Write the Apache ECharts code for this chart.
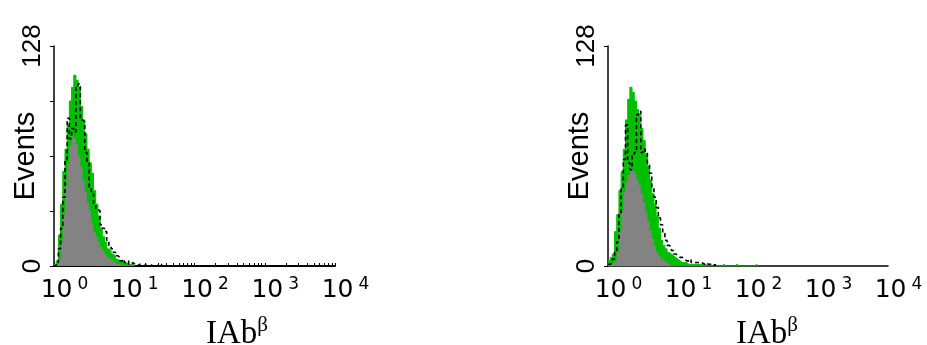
<!DOCTYPE html>
<html>
<head>
<meta charset="utf-8">
<script src="https://cdn.jsdelivr.net/npm/echarts@6/dist/echarts.min.js"></script>
<style>
  html, body { margin: 0; padding: 0; background: #fff; }
  #chart { width: 927px; height: 345px; }
</style>
</head>
<body>
<div id="chart"></div>
<script>
// Histogram channels: 32 bins per decade, 4 decades (10^0 .. 10^4)
const BINS_PER_DECADE = 32;
const DECADES = 4;
const decadeExponents = ['0', '1', '2', '3', '4'];
const yMax = 128;
const yTickValues = [0, 32, 64, 96, 128];
const yLabelValues = [0, 128];

// Left panel counts per bin
const leftGreen = [1,3,18,36,55,68,82,96,104,111,108,104,93,85,77,68,60,54,44,36,29,22,17,14,10,9,7,6,4,3,3,2,2,1,1,1,0];
const leftGray  = [0,1,4,14,30,47,60,70,76,74,71,64,58,50,43,37,32,25,20,17,14,11,9,7,5,4,3,2,1,1,0];
const leftBlack = [0,2,10,22,40,62,86,74,80,78,104,106,85,84,66,60,46,42,36,33,32,24,22,20,15,12,10,8,6,5,3,4,2,3,1,2,1,0,1,1,0,1,0,0,1,0,0,1,1];

// Right panel counts per bin
const rightGreen = [3,5,7,20,30,44,55,68,85,97,104,101,96,91,88,80,73,65,58,50,42,36,29,22,15,12,10,8,7,6,5,4,3,2,2,2,1,1,1,1,1,1,1,0,1,0,0,0,1,0,0,0,1,0,0,0,0,0,1,0,0,0,0,0,0,0,0,1];
const rightGray  = [0,1,2,3,8,20,32,43,49,53,56,56,54,50,47,42,37,31,26,21,16,12,8,6,4,3,2,1,1];
const rightBlack = [1,2,4,8,14,30,45,62,82,60,56,64,66,88,90,66,68,66,60,54,46,40,34,28,24,19,15,12,11,9,7,6,5,5,4,3,3,4,2,2,2,2,2,1,2,1,1,0,1];

const axisTitle = '{a|IAb}{b|β}';
const yName = 'Events';

// bin counts -> step points in decade units (left edges + closing edge)
function steps(counts) {
  const pts = counts.map((v, i) => [i / BINS_PER_DECADE, v]);
  pts.push([counts.length / BINS_PER_DECADE, 0]);
  return pts;
}

// log-decade minor tick positions (1..9 within each decade)
const minorTicks = [];
for (let d = 0; d < DECADES; d++) {
  for (let k = 1; k <= 9; k++) minorTicks.push(d + Math.log10(k));
}
minorTicks.push(DECADES);

const GREEN = '#00bf00';
const GRAY = '#838383';

function xAxisFor(gridIndex, withMinor) {
  return {
    type: 'value', gridIndex, min: 0, max: DECADES, interval: 1,
    axisLine: { show: true, lineStyle: { color: '#000', width: withMinor ? 2 : 1.5 } },
    axisTick: withMinor
      ? { show: true, inside: true, length: 3, customValues: minorTicks, lineStyle: { color: '#000', width: 1 } }
      : { show: false },
    splitLine: { show: false },
    axisLabel: {
      margin: 10, showMinLabel: true, showMaxLabel: true, hideOverlap: false,
      formatter: v => '{b|10}{e|' + decadeExponents[Math.round(v)] + '}',
      rich: {
        b: { fontFamily: 'DejaVu Sans', fontSize: 25, color: '#000', lineHeight: 27, verticalAlign: 'bottom', padding: [0, 0, 0, 21] },
        e: { fontFamily: 'DejaVu Sans', fontSize: 17, color: '#000', lineHeight: 27, verticalAlign: 'top', padding: [0, 0, 0, 5] }
      }
    }
  };
}

function yAxisFor(gridIndex, ticks) {
  return {
    type: 'value', gridIndex, min: 0, max: yMax,
    axisLine: { show: true, lineStyle: { color: '#000', width: 1.5 } },
    axisTick: { show: true, length: 4, customValues: ticks, lineStyle: { color: '#000', width: 1 } },
    splitLine: { show: false },
    axisLabel: {
      customValues: yLabelValues, rotate: 90, margin: 8, showMinLabel: true, showMaxLabel: true,
      fontFamily: 'Liberation Sans', fontSize: 26, color: '#000'
    },
    name: yName, nameLocation: 'middle', nameRotate: 90, nameGap: 14, nameMoveOverlap: false,
    nameTextStyle: { fontFamily: 'Liberation Sans', fontSize: 29, color: '#000' }
  };
}

function histSeries(idx, green, gray, black) {
  return [
    { type: 'line', xAxisIndex: idx, yAxisIndex: idx, step: 'end', data: steps(green), symbol: 'none',
      lineStyle: { color: GREEN, width: 1 }, areaStyle: { color: GREEN, opacity: 1 }, z: 2, silent: true },
    { type: 'line', xAxisIndex: idx, yAxisIndex: idx, step: 'end', data: steps(gray), symbol: 'none',
      lineStyle: { width: 0 }, areaStyle: { color: GRAY, opacity: 1 }, z: 3, silent: true },
    { type: 'line', xAxisIndex: idx, yAxisIndex: idx, step: 'end', data: steps(black), symbol: 'none',
      lineStyle: { color: '#000', width: 1.6, type: [4, 3] }, z: 4, silent: true }
  ];
}

const titleRich = {
  a: { fontFamily: 'Liberation Serif', fontSize: 33, fontWeight: 'normal', color: '#000', lineHeight: 36, verticalAlign: 'bottom' },
  b: { fontFamily: 'Liberation Serif', fontSize: 21, fontWeight: 'normal', color: '#000', lineHeight: 36, verticalAlign: 'top' }
};

const chart = echarts.init(document.getElementById('chart'), null, { renderer: 'canvas' });
chart.setOption({
  animation: false,
  backgroundColor: '#fff',
  title: [
    { text: axisTitle, left: 201, top: 310, textStyle: { fontWeight: 'normal', rich: titleRich } },
    { text: axisTitle, left: 731, top: 310, textStyle: { fontWeight: 'normal', rich: titleRich } }
  ],
  grid: [
    { left: 54, top: 46, width: 281, height: 220, containLabel: false, outerBoundsMode: 'none' },
    { left: 608, top: 46, width: 280, height: 220, containLabel: false, outerBoundsMode: 'none' }
  ],
  xAxis: [xAxisFor(0, true), xAxisFor(1, false)],
  yAxis: [yAxisFor(0, yTickValues), yAxisFor(1, yLabelValues)],
  series: [
    ...histSeries(0, leftGreen, leftGray, leftBlack),
    ...histSeries(1, rightGreen, rightGray, rightBlack)
  ]
});
</script>
</body>
</html>
